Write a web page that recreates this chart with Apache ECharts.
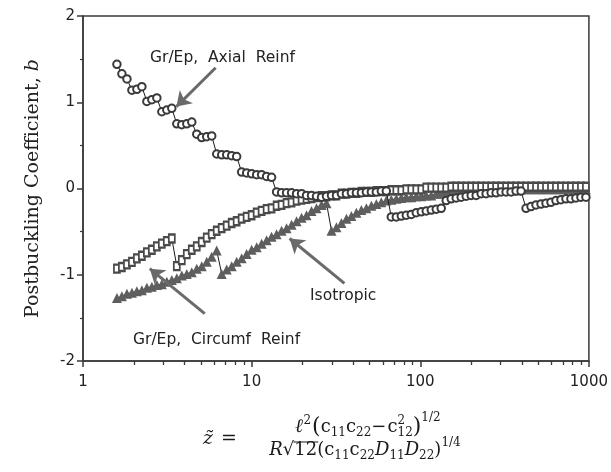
<!DOCTYPE html>
<html>
<head>
<meta charset="utf-8">
<script src="https://cdn.jsdelivr.net/npm/echarts@6/dist/echarts.min.js"></script>
<style>
  html, body { margin: 0; padding: 0; background: #fff; }
  #chart { width: 611px; height: 472px; }
</style>
</head>
<body>
<div id="chart"></div>
<script>
// Shell length parameter z~ at which b was evaluated (shared sample points)
const zValues = [
  1.589, 1.701, 1.822, 1.950, 2.087, 2.234, 2.392, 2.560, 2.741, 2.934,
  3.141, 3.362, 3.599, 3.853, 4.125, 4.416, 4.727, 5.059, 5.416, 5.798,
  6.207, 6.645, 7.113, 7.615, 8.152, 8.726, 9.342, 10.00, 10.71, 11.46,
  12.27, 13.13, 14.06, 15.05, 16.11, 17.25, 18.47, 19.77, 21.16, 22.65,
  24.25, 25.96, 27.79, 29.75, 31.84, 34.08, 36.48, 39.05, 41.80, 44.75,
  47.90, 51.28, 54.89, 58.76, 62.90, 67.33, 72.11, 77.20, 82.64, 88.45,
  94.69, 101.4, 108.5, 116.2, 124.4, 133.1, 142.5, 152.6, 163.3, 174.8,
  187.2, 200.4, 214.5, 229.6, 245.8, 263.1, 281.7, 301.5, 322.8, 345.5,
  369.9, 395.9, 423.8, 453.7, 485.7, 520.0, 556.6, 595.7, 637.7, 682.7,
  730.8, 782.3, 837.5, 896.6, 959.8
];

// Postbuckling coefficient b, Gr/Ep with axial reinforcement
const axialReinf = [
  1.44, 1.33, 1.27, 1.14, 1.15, 1.18, 1.01, 1.03, 1.05, 0.89,
  0.91, 0.93, 0.75, 0.74, 0.75, 0.77, 0.63, 0.59, 0.60, 0.61,
  0.40, 0.39, 0.39, 0.38, 0.37, 0.19, 0.18, 0.17, 0.16, 0.16,
  0.14, 0.13, -0.04, -0.05, -0.05, -0.05, -0.06, -0.06, -0.08, -0.08,
  -0.09, -0.10, -0.09, -0.08, -0.08, -0.06, -0.06, -0.05, -0.05, -0.05,
  -0.04, -0.04, -0.04, -0.03, -0.03, -0.33, -0.33, -0.32, -0.31, -0.30,
  -0.28, -0.27, -0.26, -0.25, -0.24, -0.23, -0.14, -0.12, -0.11, -0.10,
  -0.09, -0.08, -0.08, -0.06, -0.06, -0.05, -0.05, -0.04, -0.04, -0.04,
  -0.03, -0.03, -0.23, -0.21, -0.19, -0.18, -0.17, -0.16, -0.14, -0.13,
  -0.12, -0.12, -0.11, -0.10, -0.10
];

// Gr/Ep with circumferential reinforcement
const circumfReinf = [
  -0.93, -0.91, -0.88, -0.85, -0.81, -0.78, -0.74, -0.71, -0.67, -0.64,
  -0.61, -0.58, -0.90, -0.83, -0.76, -0.71, -0.67, -0.62, -0.57, -0.53,
  -0.49, -0.46, -0.43, -0.40, -0.38, -0.35, -0.33, -0.31, -0.28, -0.26,
  -0.24, -0.23, -0.20, -0.19, -0.17, -0.16, -0.14, -0.13, -0.12, -0.11,
  -0.10, -0.09, -0.09, -0.08, -0.08, -0.06, -0.06, -0.05, -0.05, -0.04,
  -0.04, -0.04, -0.03, -0.03, -0.03, -0.02, -0.02, -0.02, -0.01, -0.01,
  -0.01, -0.01, 0.01, 0.01, 0.01, 0.01, 0.01, 0.02, 0.02, 0.02,
  0.02, 0.02, 0.02, 0.02, 0.02, 0.02, 0.02, 0.02, 0.02, 0.02,
  0.02, 0.02, 0.02, 0.02, 0.02, 0.02, 0.02, 0.02, 0.02, 0.02,
  0.02, 0.02, 0.02, 0.02, 0.02
];

// Isotropic shell
const isotropic = [
  -1.27, -1.25, -1.22, -1.21, -1.19, -1.18, -1.15, -1.14, -1.12, -1.11,
  -1.08, -1.06, -1.04, -1.01, -0.99, -0.97, -0.93, -0.90, -0.85, -0.79,
  -0.72, -0.99, -0.94, -0.90, -0.85, -0.81, -0.76, -0.71, -0.68, -0.64,
  -0.60, -0.56, -0.53, -0.49, -0.46, -0.42, -0.38, -0.34, -0.31, -0.26,
  -0.23, -0.19, -0.17, -0.49, -0.45, -0.40, -0.35, -0.32, -0.28, -0.25,
  -0.23, -0.20, -0.18, -0.16, -0.14, -0.13, -0.12, -0.11, -0.10, -0.10,
  -0.09, -0.09, -0.08, -0.08, -0.06, -0.06, -0.05, -0.05, -0.05, -0.04,
  -0.04, -0.04, -0.03, -0.03, -0.03, -0.03, -0.02, -0.02, -0.02, -0.02,
  -0.02, -0.01, -0.01, -0.01, -0.01, -0.01, -0.01, -0.01, -0.01, -0.01,
  -0.01, -0.01, -0.01, -0.01, -0.01
];

const xMajorTicks = [1, 10, 100, 1000];
const xMinorTicks = [2, 3, 4, 5, 6, 7, 8, 9, 20, 30, 40, 50, 60, 70, 80, 90,
                     200, 300, 400, 500, 600, 700, 800, 900];
const yTicks = [-2, -1, 0, 1, 2];

// Annotation arrows: [tail, head] in data coordinates
const arrowAxial = [[6.12, 1.40], [3.58, 0.95]];
const arrowCircumf = [[5.27, -1.45], [2.49, -0.93]];
const arrowIso = [[35.5, -1.10], [16.8, -0.58]];

const pairs = (ys) => ys.map((y, i) => [zValues[i], y]);

const chart = echarts.init(document.getElementById('chart'), null, { renderer: 'canvas' });

const tickFont = { fontFamily: 'DejaVu Sans', fontSize: 15, color: '#222' };
const noteFont = '15.5px "DejaVu Sans"';

// --- typeset the abscissa definition from small text pieces ---
const measureCtx = document.createElement('canvas').getContext('2d');
function mathRow(tokens, cx, baseline) {
  let w = 0;
  const placed = [];
  tokens.forEach(tk => {
    const font = (tk.it ? 'italic ' : '') + (tk.b ? 'bold ' : '') + tk.s + 'px "DejaVu Serif"';
    measureCtx.font = font;
    const tw = measureCtx.measureText(tk.t).width;
    placed.push({ tk, font, x: w, w: tw });
    if (!tk.stack) w += tw + (tk.gap || 0);
  });
  const x0 = cx - w / 2;
  const els = [];
  placed.forEach(p => {
    els.push({
      type: 'text', silent: true,
      x: x0 + p.x,
      y: baseline + (p.tk.dy || 0) - 0.35 * p.tk.s,
      style: {
        text: p.tk.t, font: p.font, fill: '#1a1a1a',
        align: 'left', verticalAlign: 'middle',
        textAlign: 'left', textVerticalAlign: 'middle'
      }
    });
    if (p.tk.over) {
      els.push({
        type: 'line', silent: true,
        shape: { x1: x0 + p.x - 1, y1: baseline - 15, x2: x0 + p.x + p.w + 1, y2: baseline - 15 },
        style: { stroke: '#1a1a1a', lineWidth: 1 }
      });
    }
  });
  return els;
}

const numerator = [
  { t: 'ℓ', s: 19, it: true, b: true },
  { t: '2', s: 12, dy: -9, gap: 1 },
  { t: '(', s: 22, dy: 1 },
  { t: 'c', s: 18 }, { t: '11', s: 12, dy: 3 },
  { t: 'c', s: 18 }, { t: '22', s: 12, dy: 3 },
  { t: '−', s: 18, gap: 1 },
  { t: 'c', s: 18 }, { t: '2', s: 12, dy: -9, stack: true }, { t: '12', s: 12, dy: 3 },
  { t: ')', s: 22, dy: 1 },
  { t: '1/2', s: 12, dy: -12 }
];
const denominator = [
  { t: 'R', s: 18, it: true },
  { t: '√', s: 18 },
  { t: '12', s: 18, over: true },
  { t: '(', s: 18 },
  { t: 'c', s: 18 }, { t: '11', s: 12, dy: 3 },
  { t: 'c', s: 18 }, { t: '22', s: 12, dy: 3 },
  { t: 'D', s: 18, it: true }, { t: '11', s: 12, dy: 3 },
  { t: 'D', s: 18, it: true }, { t: '22', s: 12, dy: 3 },
  { t: ')', s: 18 },
  { t: '1/4', s: 12, dy: -10 }
];
const lhs = [
  { t: 'z̃', s: 19, it: true, gap: 8 },
  { t: '=', s: 19 }
];

const mathEls = []
  .concat(mathRow(lhs, 220, 446))
  .concat(mathRow(numerator, 368, 434))
  .concat(mathRow(denominator, 365, 457));

const option = {
  animation: false,
  backgroundColor: '#ffffff',
  grid: {
    left: 83, right: 21, top: 16, bottom: 111,
    show: true, borderColor: '#3a3a3a', borderWidth: 1.5,
    backgroundColor: 'transparent'
  },
  xAxis: [
    {
      type: 'log', logBase: 10, min: 1, max: 1000,
      position: 'bottom',
      axisLine: { show: true, onZero: false, lineStyle: { color: '#3a3a3a', width: 1.5 } },
      axisTick: { show: true, inside: false, length: 6, customValues: xMajorTicks,
                  lineStyle: { color: '#3a3a3a', width: 1.5 } },
      axisLabel: { show: true, margin: 14, customValues: xMajorTicks, ...tickFont,
                   formatter: (v) => String(Math.round(v)) },
      splitLine: { show: false },
      minorTick: { show: false }
    },
    {
      type: 'log', logBase: 10, min: 1, max: 1000,
      position: 'bottom',
      axisLine: { show: false, onZero: false },
      axisTick: { show: true, inside: false, length: 4, customValues: xMinorTicks,
                  lineStyle: { color: '#3a3a3a', width: 1.3 } },
      axisLabel: { show: false },
      splitLine: { show: false }
    }
  ],
  yAxis: {
    type: 'value', min: -2, max: 2, interval: 1,
    axisLine: { show: true, onZero: false, lineStyle: { color: '#3a3a3a', width: 1.5 } },
    axisTick: { show: true, inside: false, length: 6, lineStyle: { color: '#3a3a3a', width: 1.5 } },
    minorTick: { show: true, splitNumber: 2, length: 3, lineStyle: { color: '#3a3a3a', width: 1.2 } },
    axisLabel: { margin: 8, ...tickFont, customValues: yTicks },
    splitLine: { show: false },
    name: '{n|Postbuckling Coefficient, }{v|b}',
    nameLocation: 'middle',
    nameRotate: 90,
    nameGap: 40,
    nameTextStyle: {
      rich: {
        n: { fontFamily: 'DejaVu Serif', fontSize: 19, color: '#222' },
        v: { fontFamily: 'DejaVu Serif', fontSize: 19, fontStyle: 'italic', color: '#222' }
      }
    }
  },
  series: [
    {
      name: 'Isotropic',
      type: 'line',
      data: pairs(isotropic),
      symbol: 'triangle',
      symbolSize: 10,
      showAllSymbol: true,
      itemStyle: { color: '#5e5e5e' },
      lineStyle: { color: '#1a1a1a', width: 1 },
      z: 2
    },
    {
      name: 'Gr/Ep, Circumf Reinf',
      type: 'line',
      data: pairs(circumfReinf),
      symbol: 'emptyRect',
      symbolSize: [6, 8],
      showAllSymbol: true,
      itemStyle: { color: '#4a4a4a', borderWidth: 1.6 },
      lineStyle: { color: '#1a1a1a', width: 1 },
      z: 3
    },
    {
      name: 'Gr/Ep, Axial Reinf',
      type: 'line',
      data: pairs(axialReinf),
      symbol: 'emptyCircle',
      symbolSize: 7.5,
      showAllSymbol: true,
      itemStyle: { color: '#3a3a3a', borderWidth: 1.6 },
      lineStyle: { color: '#1a1a1a', width: 1 },
      z: 4,
      markLine: {
        silent: true,
        symbol: ['none', 'arrow'],
        symbolSize: 14,
        label: { show: false },
        lineStyle: { color: '#6a6a6a', width: 3, type: 'solid' },
        data: [
          [{ coord: arrowAxial[0] }, { coord: arrowAxial[1] }],
          [{ coord: arrowCircumf[0] }, { coord: arrowCircumf[1] }],
          [{ coord: arrowIso[0] }, { coord: arrowIso[1] }]
        ]
      }
    }
  ],
  graphic: [
    { type: 'text', silent: true, x: 150, y: 58,
      style: { text: 'Gr/Ep,  Axial  Reinf', font: noteFont, fill: '#222',
               verticalAlign: 'middle', textVerticalAlign: 'middle' } },
    { type: 'text', silent: true, x: 133, y: 340,
      style: { text: 'Gr/Ep,  Circumf  Reinf', font: noteFont, fill: '#222',
               verticalAlign: 'middle', textVerticalAlign: 'middle' } },
    { type: 'text', silent: true, x: 310, y: 296,
      style: { text: 'Isotropic', font: noteFont, fill: '#222',
               verticalAlign: 'middle', textVerticalAlign: 'middle' } }
  ].concat(mathEls)
};

chart.setOption(option);
</script>
</body>
</html>
